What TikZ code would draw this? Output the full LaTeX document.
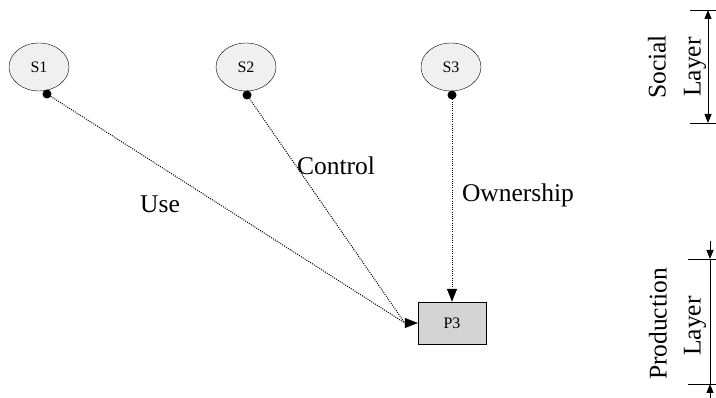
\documentclass[tikz,border=0pt]{standalone}
\usepackage{fontspec}
\setmainfont{Liberation Serif}
\usetikzlibrary{arrows.meta,shapes.geometric}
\begin{document}
\begin{tikzpicture}[x=1pt,y=-1pt,
  social/.style={draw,ellipse,fill=black!6,minimum width=60pt,minimum height=48pt,
    inner sep=0pt,font=\fontsize{16}{18}\selectfont},
  prod/.style={draw,rectangle,fill=black!17,minimum width=68pt,minimum height=42pt,
    inner sep=0pt,font=\fontsize{16}{18}\selectfont},
  rel/.style={dash pattern=on 1pt off 1.2pt,line width=1pt},
  head/.style={-{Triangle[length=13pt,width=10pt]}},
  lbl/.style={font=\fontsize{25.5}{28}\selectfont},
  tail/.style={fill=black,circle,inner sep=0pt,minimum size=9pt},
  tick/.style={line width=0.9pt},
  dim/.style={line width=0.9pt,{Triangle[length=9pt,width=7pt]}-{Triangle[length=9pt,width=7pt]}},
  dimin/.style={line width=0.9pt,-{Triangle[length=9pt,width=7pt]}}]
\useasboundingbox (0,0) rectangle (716,398);

% actors
\node[social] (s1) at (39,67) {S1};
\node[social] (s2) at (246,67) {S2};
\node[social] (s3) at (451,67) {S3};
\node[prod] (p3) at (452,323) {P3};

% tail ports
\coordinate (s1t) at (47,94);
\coordinate (s2t) at (247,95);
\coordinate (s3t) at (452,95);
% where the two incoming relations meet before the head
\coordinate (pin) at ([xshift=-13pt]p3.west);

% relations
\draw[rel] (s1t) -- (pin);
\draw[rel] (s2t) -- (pin);
\draw[head] (pin) -- (p3.west);
\draw[rel,head] (s3t) -- (p3.north);
\node[tail] at (s1t) {};
\node[tail] at (s2t) {};
\node[tail] at (s3t) {};

\node[lbl] (luse) at (160,204) {Use};
\node[lbl] (lctl) at (336,166) {Control};
\node[lbl] (lown) at (518,195) {Ownership};

% social layer extent
\coordinate (sa) at (708,10);
\coordinate (sb) at (708,123);
\draw[tick] (690,10) -- (716,10);
\draw[tick] (690,123) -- (716,123);
\draw[dim] (sa) -- (sb);
\node[lbl,rotate=90] (soc1) at (657,67) {Social};
\node[lbl,rotate=90] (soc2) at (695,67) {Layer};

% production layer extent
\coordinate (pa) at (710,259);
\coordinate (pb) at (710,384);
\coordinate (pa0) at (710,241);
\coordinate (pb0) at (710,398);
\draw[tick] (688,259) -- (716,259);
\draw[tick] (688,384) -- (716,384);
\draw[tick] (pa) -- (pb);
\draw[dimin] (pa0) -- (pa);
\draw[dimin] (pb0) -- (pb);
\node[lbl,rotate=90] (pro1) at (658,324) {Production};
\node[lbl,rotate=90] (pro2) at (695,326) {Layer};
\end{tikzpicture}
\end{document}
